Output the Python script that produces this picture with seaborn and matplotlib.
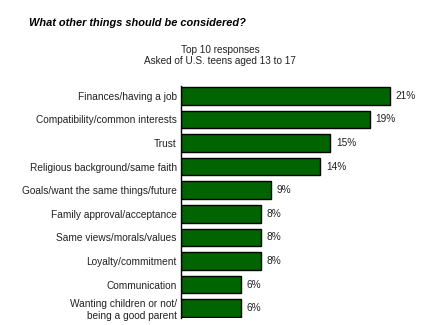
import matplotlib
matplotlib.use("Agg")
import matplotlib.pyplot as plt
import seaborn as sns
import pandas as pd

categories = [
    "Finances/having a job",
    "Compatibility/common interests",
    "Trust",
    "Religious background/same faith",
    "Goals/want the same things/future",
    "Family approval/acceptance",
    "Same views/morals/values",
    "Loyalty/commitment",
    "Communication",
    "Wanting children or not/\nbeing a good parent",
]
values = [21, 19, 15, 14, 9, 8, 8, 8, 6, 6]
value_labels = ["21%", "19%", "15%", "14%", "9%", "8%", "8%", "8%", "6%", "6%"]

title = "What other things should be considered?"
subtitle = "Top 10 responses\nAsked of U.S. teens aged 13 to 17"

sns.set_style("white")
plt.rcParams["font.family"] = ["Liberation Sans", "DejaVu Sans"]

df = pd.DataFrame({"category": categories, "value": values})

fig = plt.figure(figsize=(4.4, 3.25), dpi=100)
ax = fig.add_axes([181 / 440, 7 / 325, 259 / 440, 232 / 325])

sns.barplot(data=df, x="value", y="category", orient="h", color="#006400",
            saturation=1, edgecolor="black", linewidth=1.0, width=0.74, ax=ax)

ax.set_xlim(0, 259 / 9.95)
ax.set_ylim(len(categories) - 1 + 0.42, -0.42)
ax.set_xlabel("")
ax.set_ylabel("")
ax.set_xticks([])
for s in ["top", "right", "bottom"]:
    ax.spines[s].set_visible(False)
ax.spines["left"].set_color("black")
ax.spines["left"].set_linewidth(1.0)
ax.tick_params(axis="y", length=0, pad=3, labelsize=7.3, labelcolor="#222222")

for i, (v, lab) in enumerate(zip(values, value_labels)):
    ax.annotate(lab, xy=(v, i), xytext=(4, 0), textcoords="offset points",
                ha="left", va="center", fontsize=7.3, color="#222222")

fig.text(29 / 440, 1 - 23 / 325, title, ha="left", va="center",
         fontsize=7.9, fontweight="bold", fontstyle="italic", color="black")
fig.text(220 / 440, 1 - 55.5 / 325, subtitle, ha="center", va="center",
         fontsize=7.2, color="#222222", linespacing=1.2)

fig.savefig("out.png", dpi=100)
